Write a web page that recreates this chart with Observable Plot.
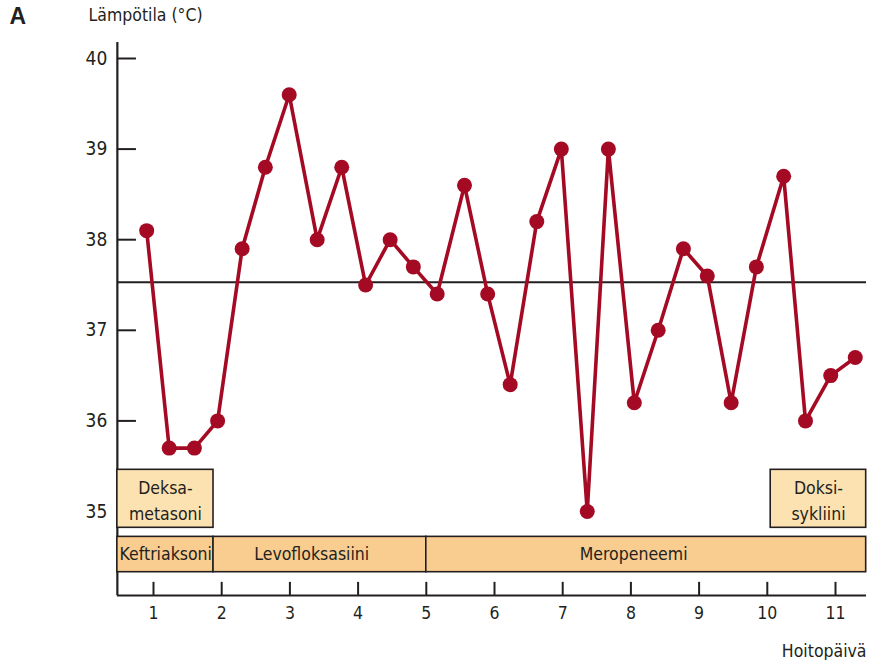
<!DOCTYPE html>
<html>
<head>
<meta charset="utf-8">
<script src="https://cdn.jsdelivr.net/npm/d3@7"></script>
<script src="https://cdn.jsdelivr.net/npm/@observablehq/plot@0.6"></script>
<style>
  html, body { margin: 0; padding: 0; background: #fff; }
  #chart svg { display: block; font-family: "Liberation Sans Narrow", "DejaVu Sans Condensed", "DejaVu Sans", sans-serif; font-stretch: condensed; }
</style>
</head>
<body>
<div id="chart"></div>
<script>
// Temperature readings (treatment day, °C)
const days  = [0.90,1.23,1.60,1.94,2.30,2.64,2.99,3.40,3.76,4.11,4.47,4.81,5.16,5.56,5.90,6.23,6.62,6.98,7.36,7.67,8.05,8.40,8.77,9.12,9.47,9.84,10.24,10.56,10.93,11.29];
const temps = [38.1,35.7,35.7,36.0,37.9,38.8,39.6,38.0,38.8,37.5,38.0,37.7,37.4,38.6,37.4,36.4,38.2,39.0,35.0,39.0,36.2,37.0,37.9,37.6,36.2,37.7,38.7,36.0,36.5,36.7];

// Antibiotic row
const abNames  = ["Keftriaksoni", "Levofloksasiini", "Meropeneemi"];
const abStart  = [0.47, 1.88, 5.0];
const abEnd    = [1.88, 5.0, 11.45];
const abLabelX = [1.18, 3.32, 8.04];

// Other medication row
const medNames  = ["Deksa-\nmetasoni", "Doksi-\nsykliini"];
const medStart  = [0.47, 10.05];
const medEnd    = [1.88, 11.45];

// Axes
const yTicks = [35, 36, 37, 38, 39, 40];
const xTicks = [1, 2, 3, 4, 5, 6, 7, 8, 9, 10, 11];
const refTemp = 37.53;

const xMin = 0.47, xMax = 11.455;
const yMin = 34.073, yTop = 40.177;

const readings = days.map((d, i) => ({day: d, temp: temps[i]}));
const ab = abNames.map((n, i) => ({name: n, x1: abStart[i], x2: abEnd[i], lx: abLabelX[i]}));
const med = medNames.map((n, i) => ({name: n, x1: medStart[i], x2: medEnd[i]}));

const ink = "#231f20";
const red = "#a50a24";
const fs = 17.5;

const chart = Plot.plot({
  width: 872,
  height: 660,
  marginTop: 0, marginRight: 0, marginBottom: 0, marginLeft: 0,
  x: {domain: [1, 11], range: [153, 835], axis: null},
  y: {domain: [35, 40], range: [511, 58], axis: null},
  style: {fontSize: fs + "px", color: ink, background: "#fff"},
  marks: [
    // y ticks (inward)
    Plot.ruleY(yTicks, {x1: xMin, x2: xMin + 0.28, stroke: ink, strokeWidth: 2}),
    // reference line
    Plot.ruleY([refTemp], {x1: xMin, x2: xMax, stroke: ink, strokeWidth: 2}),
    // axis lines
    Plot.ruleX([xMin], {y1: yMin, y2: yTop, stroke: ink, strokeWidth: 2.2}),
    Plot.ruleY([yMin], {x1: xMin, x2: xMax, stroke: ink, strokeWidth: 2.2}),
    // x ticks (inward)
    Plot.ruleX(xTicks, {y1: yMin, y2: yMin + 0.145, stroke: ink, strokeWidth: 2}),
    // medication boxes
    Plot.rect(ab, {x1: "x1", x2: "x2", y1: 34.33, y2: 34.72, fill: "#f9cc8f", stroke: ink, strokeWidth: 1.6}),
    Plot.text(ab, {x: "lx", y: 34.525, text: "name", fill: ink, fontSize: fs}),
    Plot.rect(med, {x1: "x1", x2: "x2", y1: 34.82, y2: 35.46, fill: "#fde2b1", stroke: ink, strokeWidth: 1.6}),
    Plot.text(med, {x: d => (d.x1 + d.x2) / 2, y: 35.14, text: "name", fill: ink, fontSize: fs, lineHeight: 1.45}),
    // y tick labels
    Plot.text(yTicks, {x: xMin, y: d => d, text: d => String(d), textAnchor: "end", dx: -10, fill: ink, fontSize: 19}),
    // x tick labels
    Plot.text(xTicks, {x: d => d, y: yMin, text: d => String(d), dy: 18, fill: ink, fontSize: fs}),
    // temperature line
    Plot.line(readings, {x: "day", y: "temp", stroke: red, strokeWidth: 3.6, strokeLinejoin: "round"}),
    Plot.dot(readings, {x: "day", y: "temp", r: 7.5, fill: red, stroke: "none"}),
    // titles
    Plot.text(["A"], {frameAnchor: "top-left", dx: 9, dy: 7, fontWeight: "bold", fontSize: 23, fill: ink, fontFamily: "Liberation Sans, Arial, sans-serif", lineAnchor: "top", textAnchor: "start"}),
    Plot.text(["Lämpötila (°C)"], {frameAnchor: "top-left", dx: 88, dy: 8, fontSize: fs, fill: ink, lineAnchor: "top", textAnchor: "start"}),
    Plot.text(["Hoitopäivä"], {frameAnchor: "bottom-right", dx: -6, dy: -4, fontSize: fs, fill: ink, lineAnchor: "bottom", textAnchor: "end"})
  ]
});
document.getElementById("chart").appendChild(chart);
</script>
</body>
</html>
